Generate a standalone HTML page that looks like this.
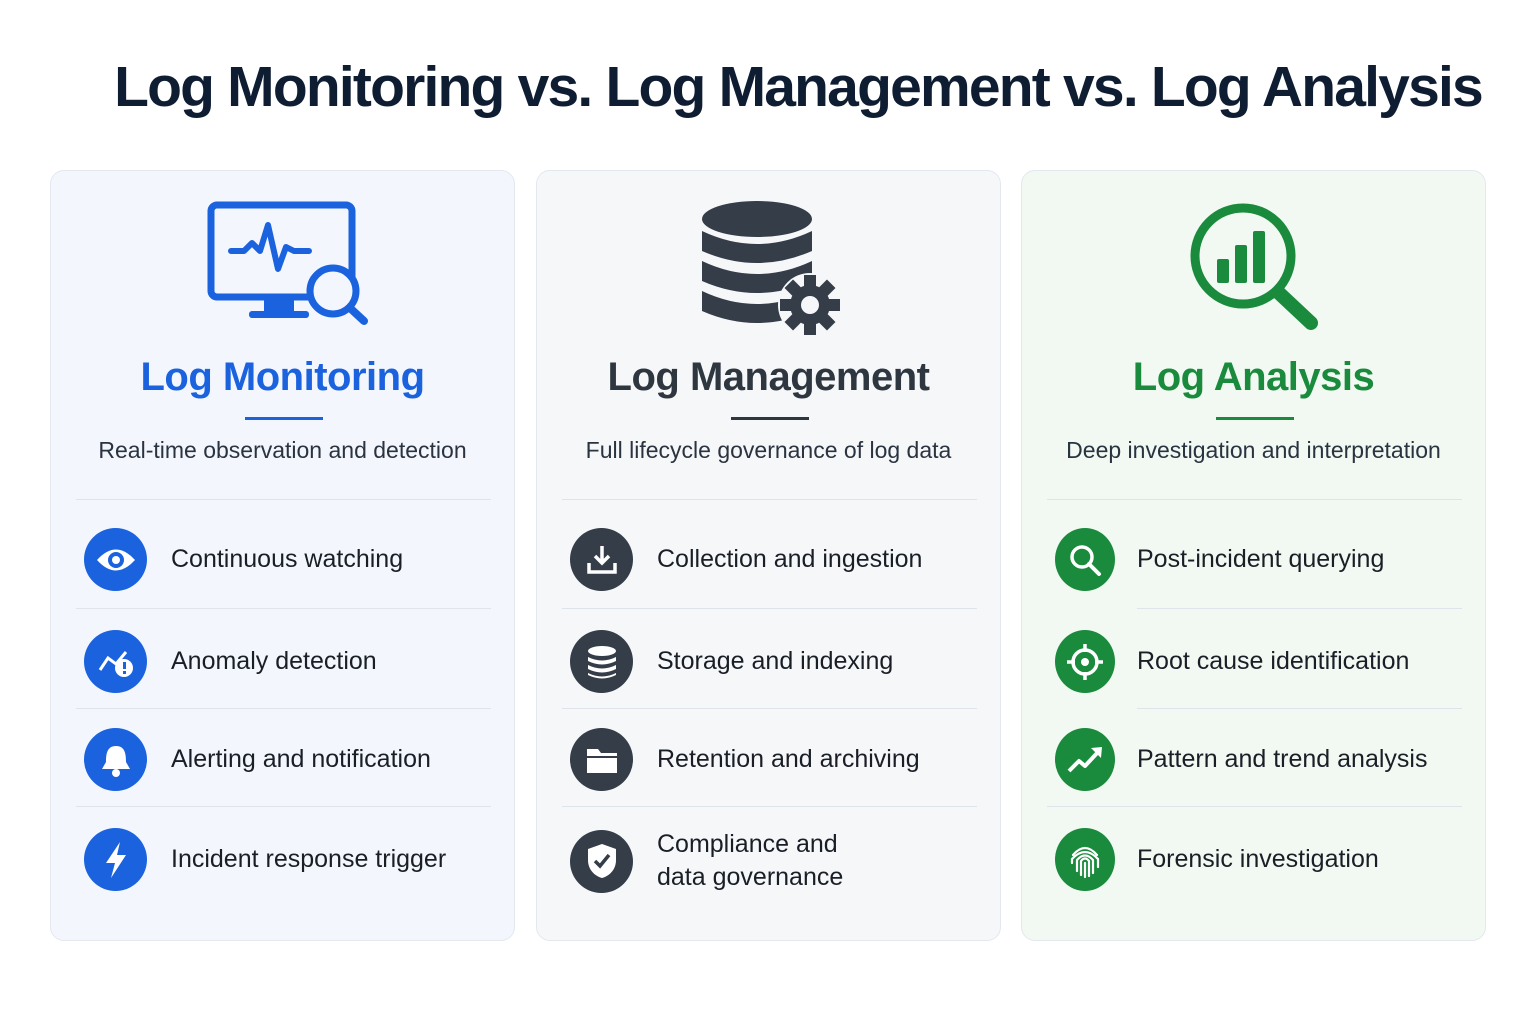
<!DOCTYPE html>
<html><head><meta charset="utf-8"><style>
*{margin:0;padding:0;box-sizing:border-box}
body{width:1536px;height:1024px;background:#fff;font-family:"Liberation Sans",sans-serif;position:relative;overflow:hidden;color:#1c2430}
.t{position:absolute;left:0;width:1536px;top:54px;text-align:center;padding-left:60px;font-size:57px;font-weight:bold;color:#0f1d33;letter-spacing:-1.8px}
.card{position:absolute;top:170px;width:465px;height:771px;border-radius:14px;border:1px solid #e3e8ef}
.h{position:absolute;left:0;width:100%;top:352px;text-align:center;font-size:40px;font-weight:bold;letter-spacing:-0.5px}
.ul{position:absolute;top:246px;left:194px;width:78px;height:3px}
.sub{position:absolute;left:0;width:100%;top:266px;text-align:center;font-size:23px;color:#2a3340}
.div{position:absolute;left:25px;width:415px;height:1px;background:#dfe4ea}
.row{position:absolute;left:33px;display:flex;align-items:center}
.ic{width:63px;height:63px;border-radius:50%;display:flex;align-items:center;justify-content:center;flex:none}
.row span{margin-left:24px;font-size:25px;color:#1a1f27;line-height:33px}
</style></head><body>
<div class="t">Log Monitoring vs. Log Management vs. Log Analysis</div>

<!-- Card 1 -->
<div class="card" style="left:50px;background:#f3f7fd">
 <svg style="position:absolute;left:155px;top:30px" width="165" height="125" viewBox="0 0 165 125">
  <rect x="5" y="4" width="141" height="92" rx="6" fill="none" stroke="#1a62de" stroke-width="7"/>
  <polyline points="25,50 38,50 46,42 54,50 62,24 72,68 80,46 88,50 103,50" fill="none" stroke="#1a62de" stroke-width="6" stroke-linejoin="round" stroke-linecap="round"/>
  <rect x="58" y="96" width="30" height="14" fill="#1a62de"/>
  <rect x="43" y="110" width="60" height="7" rx="3" fill="#1a62de"/>
  <circle cx="127" cy="90" r="23" fill="#f3f7fd" stroke="#1a62de" stroke-width="7"/>
  <line x1="144" y1="107" x2="158" y2="120" stroke="#1a62de" stroke-width="8" stroke-linecap="round"/>
 </svg>
 <div class="h" style="top:184px;color:#1a62de">Log Monitoring</div>
 <div class="ul" style="background:#1a62de"></div>
 <div class="sub">Real-time observation and detection</div>
 <div class="div" style="top:328px"></div>
 <div class="row" style="top:357px"><div class="ic" style="background:#1a62de"><svg width="44" height="30"><path d="M3 15 Q22 -6 41 15 Q22 36 3 15Z" fill="#fff"/><circle cx="22" cy="15" r="8" fill="#1a62de"/><circle cx="22" cy="15" r="4" fill="#fff"/></svg></div><span>Continuous watching</span></div>
 <div class="div" style="top:437px"></div>
 <div class="row" style="top:459px"><div class="ic" style="background:#1a62de"><svg width="40" height="36"><polyline points="4,26 12,14 20,20 30,8" fill="none" stroke="#fff" stroke-width="3"/><circle cx="28" cy="24" r="9" fill="#fff"/><rect x="27" y="18" width="3" height="7" fill="#1a62de"/><rect x="27" y="27" width="3" height="3" fill="#1a62de"/></svg></div><span>Anomaly detection</span></div>
 <div class="div" style="top:537px"></div>
 <div class="row" style="top:557px"><div class="ic" style="background:#1a62de"><svg width="34" height="36"><path d="M17 4 C8 4 7 12 7 20 L3 27 L31 27 L27 20 C27 12 26 4 17 4Z" fill="#fff"/><circle cx="17" cy="31" r="4" fill="#fff"/></svg></div><span>Alerting and notification</span></div>
 <div class="div" style="top:635px"></div>
 <div class="row" style="top:657px"><div class="ic" style="background:#1a62de"><svg width="30" height="40"><path d="M19 2 L5 23 L14 23 L10 38 L25 15 L16 15Z" fill="#fff"/></svg></div><span>Incident response trigger</span></div>
</div>

<!-- Card 2 -->
<div class="card" style="left:536px;background:#f6f7f9">
 <svg style="position:absolute;left:160px;top:28px" width="150" height="140" viewBox="0 0 150 140">
  <ellipse cx="60" cy="20" rx="55" ry="18" fill="#343d48"/>
  <path d="M5 32 Q60 58 115 32 L115 52 Q60 76 5 52Z" fill="#343d48"/>
  <path d="M5 62 Q60 88 115 62 L115 82 Q60 106 5 82Z" fill="#343d48"/>
  <path d="M5 92 Q60 118 115 92 L115 112 Q60 136 5 112Z" fill="#343d48"/>
  <circle cx="113" cy="106" r="32" fill="#f6f7f9"/>
  <g transform="translate(113,106)" fill="#343d48">
   <circle r="20"/>
   <rect x="-6" y="-30" width="12" height="60"/><rect x="-30" y="-6" width="60" height="12"/>
   <rect x="-6" y="-30" width="12" height="60" transform="rotate(45)"/><rect x="-6" y="-30" width="12" height="60" transform="rotate(-45)"/>
   <circle r="9" fill="#f6f7f9"/>
  </g>
 </svg>
 <div class="h" style="top:184px;color:#2e3640">Log Management</div>
 <div class="ul" style="background:#2e3640"></div>
 <div class="sub">Full lifecycle governance of log data</div>
 <div class="div" style="top:328px"></div>
 <div class="row" style="top:357px"><div class="ic" style="background:#343d48"><svg width="34" height="34"><path d="M17 3 V20 M10 13 L17 20 L24 13" fill="none" stroke="#fff" stroke-width="3.5"/><path d="M4 20 V29 H30 V20" fill="none" stroke="#fff" stroke-width="3.5"/></svg></div><span>Collection and ingestion</span></div>
 <div class="div" style="top:437px"></div>
 <div class="row" style="top:459px"><div class="ic" style="background:#343d48"><svg width="34" height="36"><ellipse cx="17" cy="7" rx="14" ry="5" fill="#fff"/><path d="M3 13 Q17 20 31 13 V17 Q17 24 3 17Z M3 21 Q17 28 31 21 V25 Q17 32 3 25Z M3 29 Q17 36 31 29 V31 Q17 38 3 31Z" fill="#fff"/></svg></div><span>Storage and indexing</span></div>
 <div class="div" style="top:537px"></div>
 <div class="row" style="top:557px"><div class="ic" style="background:#343d48"><svg width="34" height="30"><path d="M2 4 H13 L16 8 H32 V28 H2Z" fill="#fff"/><rect x="2" y="11" width="30" height="2" fill="#343d48"/></svg></div><span>Retention and archiving</span></div>
 <div class="div" style="top:635px"></div>
 <div class="row" style="top:657px"><div class="ic" style="background:#343d48"><svg width="32" height="38"><path d="M16 2 L30 7 V18 C30 28 23 34 16 36 C9 34 2 28 2 18 V7Z" fill="#fff"/><polyline points="9,19 14,24 23,13" fill="none" stroke="#343d48" stroke-width="3.5"/></svg></div><span>Compliance and<br>data governance</span></div>
</div>

<!-- Card 3 -->
<div class="card" style="left:1021px;background:#f1f9f2">
 <svg style="position:absolute;left:165px;top:30px" width="140" height="135" viewBox="0 0 140 135">
  <circle cx="56" cy="55" r="48" fill="none" stroke="#1a8a3c" stroke-width="9"/>
  <rect x="30" y="58" width="12" height="24" rx="2" fill="#1a8a3c"/>
  <rect x="48" y="44" width="12" height="38" rx="2" fill="#1a8a3c"/>
  <rect x="66" y="30" width="12" height="52" rx="2" fill="#1a8a3c"/>
  <line x1="92" y1="92" x2="124" y2="122" stroke="#1a8a3c" stroke-width="14" stroke-linecap="round"/>
 </svg>
 <div class="h" style="top:184px;color:#1a8a3c">Log Analysis</div>
 <div class="ul" style="background:#1a8a3c"></div>
 <div class="sub">Deep investigation and interpretation</div>
 <div class="div" style="top:328px"></div>
 <div class="row" style="top:357px"><div class="ic" style="background:#1a8a3c;width:60px;height:63px"><svg width="36" height="36"><circle cx="15" cy="15" r="10" fill="none" stroke="#fff" stroke-width="3.5"/><line x1="22" y1="22" x2="32" y2="32" stroke="#fff" stroke-width="4" stroke-linecap="round"/></svg></div><span style="margin-left:22px">Post-incident querying</span></div>
 <div class="div" style="top:437px;left:115px;width:325px"></div>
 <div class="row" style="top:459px"><div class="ic" style="background:#1a8a3c;width:60px"><svg width="40" height="40"><circle cx="20" cy="20" r="12" fill="none" stroke="#fff" stroke-width="3.5"/><circle cx="20" cy="20" r="4" fill="#fff"/><path d="M20 2 V10 M20 30 V38 M2 20 H10 M30 20 H38" stroke="#fff" stroke-width="3.5"/></svg></div><span style="margin-left:22px">Root cause identification</span></div>
 <div class="div" style="top:537px;left:115px;width:325px"></div>
 <div class="row" style="top:557px"><div class="ic" style="background:#1a8a3c;width:60px"><svg width="40" height="34"><polyline points="4,28 14,18 20,23 34,8" fill="none" stroke="#fff" stroke-width="4" stroke-linejoin="round"/><path d="M26 5 L37 4 L36 15Z" fill="#fff"/></svg></div><span style="margin-left:22px">Pattern and trend analysis</span></div>
 <div class="div" style="top:635px"></div>
 <div class="row" style="top:657px"><div class="ic" style="background:#1a8a3c;width:60px"><svg width="34" height="38" fill="none" stroke="#fff" stroke-width="2.2" stroke-linecap="round"><path d="M5 14 Q17 0 29 14"/><path d="M4 22 V18 Q17 4 30 18 V26"/><path d="M9 30 V19 Q17 10 25 19 V32"/><path d="M13 34 V20 Q17 15 21 20 V35"/><path d="M17 22 V36"/></svg></div><span style="margin-left:22px">Forensic investigation</span></div>
</div>
</body></html>
